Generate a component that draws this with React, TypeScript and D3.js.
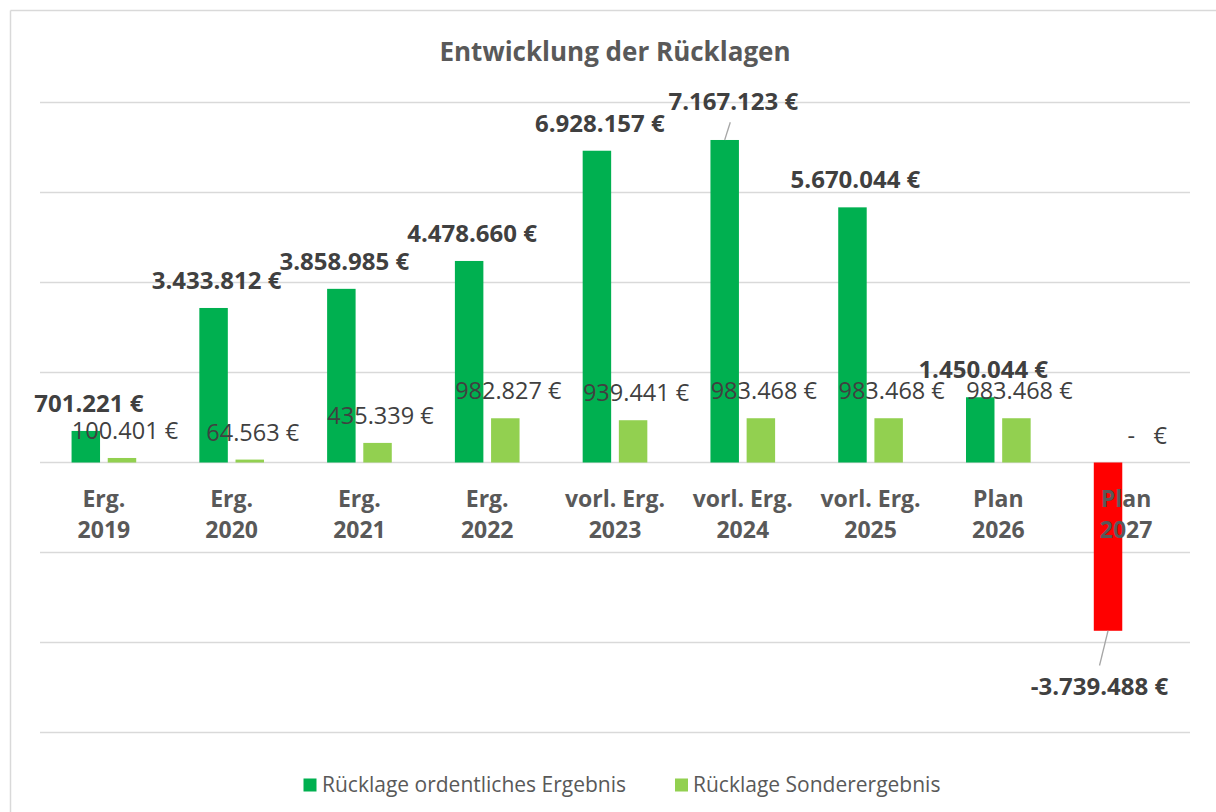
import React from "react";
import * as d3 from "d3";

const categoryLine1 = ["Erg.", "Erg.", "Erg.", "Erg.", "vorl. Erg.", "vorl. Erg.", "vorl. Erg.", "Plan", "Plan"];
const categoryLine2 = ["2019", "2020", "2021", "2022", "2023", "2024", "2025", "2026", "2027"];
const ordentlich = [701221, 3433812, 3858985, 4478660, 6928157, 7167123, 5670044, 1450044, -3739488];
const sonder = [100401, 64563, 435339, 982827, 939441, 983468, 983468, 983468, 0];
const seriesNames = ["Rücklage ordentliches Ergebnis", "Rücklage Sonderergebnis"];
const yTicks = [-6000000, -4000000, -2000000, 0, 2000000, 4000000, 6000000, 8000000];

// manual label displacements (layout only)
const darkLabelShift: Record<number, [number, number]> = { 5: [5.6, -10.5], 8: [-11.5, 28] };

const W = 1216;
const H = 812;
const PLOT_L = 40;
const PLOT_R = 1190;
const DARK = "#00b050";
const LIGHT = "#92d050";
const NEG = "#ff0000";
const GRID = "#d9d9d9";
const FONT = "'Open Sans', 'Noto Sans', sans-serif";

const loc = d3.formatLocale({ decimal: ",", thousands: ".", grouping: [3], currency: ["", " €"], minus: "-" });
const fmtNum = loc.format(",.0f");
const fmtEur = (v: number) => (v === 0 ? "-   €" : fmtNum(v) + " €");

export default function App() {
  const y = d3.scaleLinear().domain([-6000000, 8000000]).range([732.5, 102.5]);
  const x0 = d3.scaleBand<string>().domain(categoryLine2).range([PLOT_L, PLOT_R]).padding(0);
  const step = x0.bandwidth();
  const groupW = step * 0.506;
  const x1 = d3
    .scaleBand<string>()
    .domain(seriesNames)
    .range([(step - groupW) / 2, (step + groupW) / 2])
    .paddingInner(0.2127);
  const bw = x1.bandwidth();

  const series = [ordentlich, sonder];

  const bars: React.ReactNode[] = [];
  const labels: React.ReactNode[] = [];
  const leaders: React.ReactNode[] = [];

  series.forEach((vals, si) => {
    vals.forEach((v, i) => {
      const cat = categoryLine2[i];
      const bx = (x0(cat) as number) + (x1(seriesNames[si]) as number);
      const cx = bx + bw / 2;
      const top = Math.min(y(v), y(0));
      const h = Math.abs(y(v) - y(0));
      let fill = si === 0 ? DARK : LIGHT;
      if (v < 0) fill = NEG;
      if (h > 0) {
        bars.push(<rect key={`b${si}-${i}`} x={bx} y={top} width={bw} height={h} fill={fill} />);
      }
      const natX = cx + 3;
      const natBase = v >= 0 ? y(v) - 19 : y(v) + 36;
      let lx = natX;
      let lb = natBase;
      if (si === 0 && darkLabelShift[i]) {
        lx += darkLabelShift[i][0];
        lb += darkLabelShift[i][1];
        const endX = v >= 0 ? lx - 3 : lx;
        const endY = v >= 0 ? lb + 11.8 : lb - 29.3;
        leaders.push(
          <line key={`l${i}`} x1={cx} y1={y(v)} x2={endX} y2={endY} stroke="#a6a6a6" strokeWidth={1.3} />
        );
      }
      labels.push(
        <text
          key={`t${si}-${i}`}
          x={lx}
          y={lb}
          textAnchor="middle"
          fontFamily={FONT}
          fontSize={si === 0 ? 24 : 23.5}
          fontWeight={si === 0 ? 700 : 400}
          fill="#404040"
          style={{ whiteSpace: "pre" }}
        >
          {fmtEur(v)}
        </text>
      );
    });
  });

  return (
    <svg
      width={W}
      height={H}
      viewBox={`0 0 ${W} ${H}`}
      style={{ position: "absolute", left: 0, top: 0, background: "#fff" }}
    >
      <rect x={0} y={0} width={W} height={H} fill="#fff" />
      <line x1={10.5} y1={10.5} x2={W} y2={10.5} stroke={GRID} strokeWidth={1.5} />
      <line x1={10.5} y1={10.5} x2={10.5} y2={H} stroke={GRID} strokeWidth={1.5} />
      <text x={615} y={61} textAnchor="middle" fontFamily={FONT} fontSize={26} fontWeight={700} fill="#595959">
        Entwicklung der Rücklagen
      </text>
      {yTicks.map((t) => (
        <line key={t} x1={PLOT_L} x2={PLOT_R} y1={y(t)} y2={y(t)} stroke={GRID} strokeWidth={1.5} />
      ))}
      {bars}
      {leaders}
      {categoryLine2.map((c, i) => {
        const cx = (x0(c) as number) + step / 2;
        return (
          <text key={c} textAnchor="middle" fontFamily={FONT} fontSize={23} fontWeight={700} fill="#595959">
            <tspan x={cx} y={506.7}>
              {categoryLine1[i]}
            </tspan>
            <tspan x={cx} y={538.3}>
              {c}
            </tspan>
          </text>
        );
      })}
      {labels}
      <g>
        <rect x={303.5} y={778.5} width={13} height={13} fill={DARK} />
        <text x={322} y={792} fontFamily={FONT} fontSize={21} fill="#595959">
          {seriesNames[0]}
        </text>
        <rect x={675} y={778.5} width={13} height={13} fill={LIGHT} />
        <text x={693} y={792} fontFamily={FONT} fontSize={21} fill="#595959">
          {seriesNames[1]}
        </text>
      </g>
    </svg>
  );
}
